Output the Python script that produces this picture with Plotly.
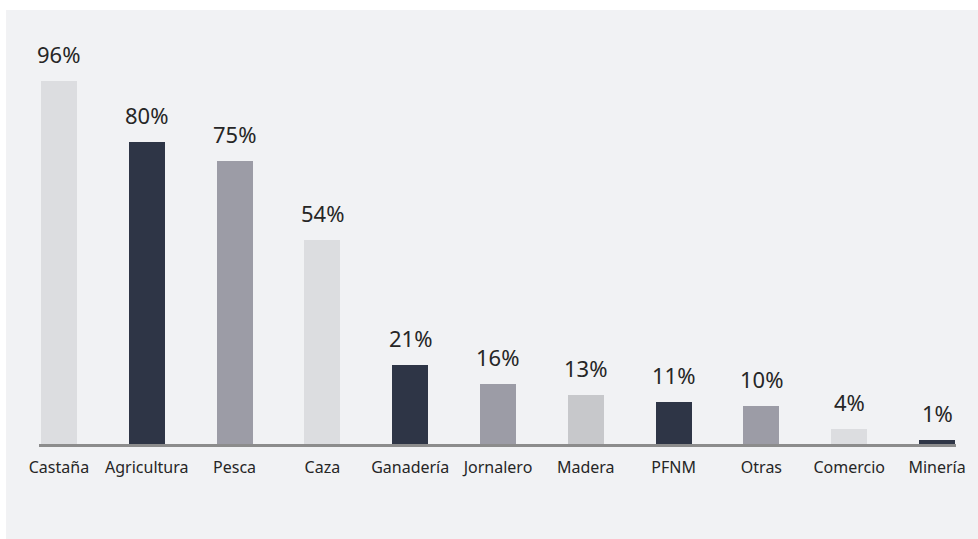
import plotly.graph_objects as go

categories = ["Castaña", "Agricultura", "Pesca", "Caza", "Ganadería", "Jornalero",
              "Madera", "PFNM", "Otras", "Comercio", "Minería"]
values = [96, 80, 75, 54, 21, 16, 13, 11, 10, 4, 1]
labels = ["96%", "80%", "75%", "54%", "21%", "16%", "13%", "11%", "10%", "4%", "1%"]
colors = ["#dcdde0", "#2e3546", "#9c9ca6", "#dcdde0", "#2e3546", "#9c9ca6",
          "#c7c8cb", "#2e3546", "#9c9ca6", "#dcdde0", "#2e3546"]

W, H = 978, 539
L, R, T, B = 39, 20, 40, 95
pw, ph = W - L - R, H - T - B

fig = go.Figure()
fig.add_trace(go.Bar(x=categories, y=values, marker=dict(color=colors, line=dict(width=0)),
                     width=0.41, hoverinfo="skip"))

for c, v, t in zip(categories, values, labels):
    fig.add_annotation(x=c, y=v, text=t, showarrow=False, yanchor="bottom", yshift=10,
                       font=dict(family="Noto Sans", size=22, color="#262626"))

fig.add_shape(type="rect", xref="paper", yref="paper",
              x0=(6 - L) / pw, x1=(W - L) / pw + 0.01,
              y0=-(B / ph) - 0.01, y1=(ph + T - 10) / ph,
              fillcolor="#f1f2f4", line=dict(width=0), layer="below")

fig.update_layout(
    width=W, height=H,
    margin=dict(l=L, r=R, t=T, b=B),
    paper_bgcolor="white", plot_bgcolor="rgba(0,0,0,0)",
    showlegend=False,
    bargap=0,
    font=dict(family="Noto Sans", color="#262626"),
)
fig.update_xaxes(range=[-0.227, 10.216], showline=True, linecolor="#8c8c8c", linewidth=3,
                 ticks="", showgrid=False, zeroline=False, ticklabelstandoff=7,
                 tickfont=dict(family="Noto Sans", size=16, color="#262626"))
fig.update_yaxes(range=[0, ph / 3.78], visible=False, showgrid=False, zeroline=False)

fig.write_html("out.html", config={"displayModeBar": False},
               post_script="document.body.style.margin='0';")
